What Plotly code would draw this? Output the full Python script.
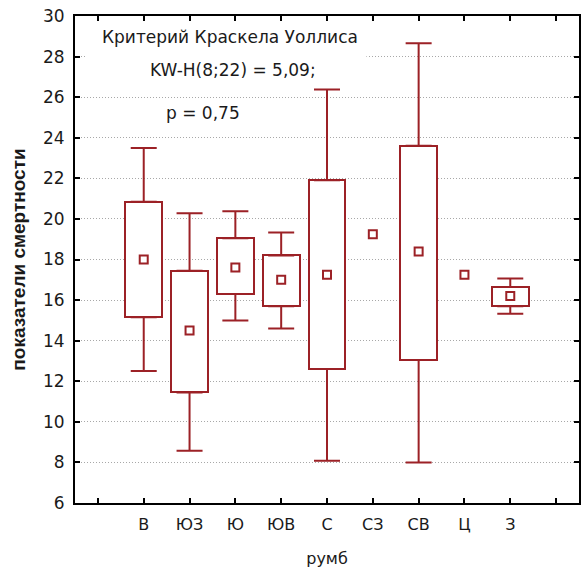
import plotly.graph_objects as go

# ---- data ----
categories = ["В", "ЮЗ", "Ю", "ЮВ", "С", "СЗ", "СВ", "Ц", "З"]
medians = [18.0, 14.5, 17.6, 17.0, 17.25, 19.25, 18.4, 17.25, 16.2]
q1 = [15.15, 11.45, 16.3, 15.7, 12.6, None, 13.05, None, 15.7]
q3 = [20.85, 17.45, 19.05, 18.2, 21.9, None, 23.6, None, 16.65]
mins = [12.5, 8.57, 15.0, 14.6, 8.08, None, 8.0, None, 15.33]
maxs = [23.5, 20.28, 20.38, 19.33, 26.38, None, 28.66, None, 17.06]
y_ticks = list(range(6, 31, 2))
annotation_lines = ["Критерий Краскела Уоллиса", "KW-H(8;22) = 5,09;", "p = 0,75"]

RED = "#9c2126"
FONT = "DejaVu Sans, Liberation Sans, Arial, sans-serif"
TFONT = "Liberation Sans, Arial, sans-serif"
TXT = "#1a1a1a"

pos = [i + 1 for i in range(len(categories))]

fig = go.Figure()

# boxes (25%-75%)
box_pos = [p for p, a in zip(pos, q1) if a is not None]
box_base = [a for a in q1 if a is not None]
box_h = [b - a for a, b in zip(q1, q3) if a is not None]
fig.add_trace(go.Bar(
    x=box_pos, y=box_h, base=box_base, width=0.8,
    marker=dict(color="white", line=dict(color=RED, width=2)),
    showlegend=False, hoverinfo="skip"))

# whiskers (min-max)
up_y = [a for a in q3 if a is not None]
up_e = [m - a for a, m in zip(q3, maxs) if a is not None]
lo_y = [a for a in q1 if a is not None]
lo_e = [a - m for a, m in zip(q1, mins) if a is not None]
fig.add_trace(go.Scatter(
    x=box_pos, y=up_y, mode="markers",
    marker=dict(size=1, color="rgba(0,0,0,0)"),
    error_y=dict(type="data", symmetric=False, array=up_e, arrayminus=[0] * len(up_e),
                 color=RED, thickness=2, width=13),
    showlegend=False, hoverinfo="skip"))
fig.add_trace(go.Scatter(
    x=box_pos, y=lo_y, mode="markers",
    marker=dict(size=1, color="rgba(0,0,0,0)"),
    error_y=dict(type="data", symmetric=False, array=[0] * len(lo_e), arrayminus=lo_e,
                 color=RED, thickness=2, width=13),
    showlegend=False, hoverinfo="skip"))

# medians
fig.add_trace(go.Scatter(
    x=pos, y=medians, mode="markers",
    marker=dict(symbol="square", size=8, color="white", line=dict(color=RED, width=2)),
    showlegend=False, hoverinfo="skip"))

# white background of the text block
fig.add_shape(type="rect", xref="x", yref="y", x0=-0.24, x1=5.86, y0=27.2, y1=29.6,
              fillcolor="white", line=dict(width=0), layer="between")

ann_x = [100, 148, 164]
ann_y = [37, 70, 113]
for txt, ax, ay in zip(annotation_lines, ann_x, ann_y):
    fig.add_annotation(text=txt, xref="paper", yref="paper",
                       x=(ax - 75) / 506, y=(571 - 68 - ay) / 487,
                       xanchor="left", yanchor="middle", showarrow=False,
                       font=dict(family=FONT, size=17, color=TXT))

fig.update_layout(
    width=581, height=571,
    margin=dict(l=75, r=0, t=16, b=68),
    paper_bgcolor="white", plot_bgcolor="white",
    font=dict(family=FONT, color=TXT),
    bargap=0,
)
fig.update_xaxes(
    range=[-0.5, 10.5],
    tickvals=list(range(0, 11)),
    ticktext=[""] + categories + [""],
    ticks="inside", ticklen=5, tickwidth=2, tickcolor="black",
    showline=True, linecolor="black", linewidth=2, mirror="ticks",
    showgrid=False, zeroline=False,
    ticklabelstandoff=6,
    tickfont=dict(family=FONT, size=16, color=TXT),
    title=dict(text="румб", font=dict(family=FONT, size=16, color=TXT), standoff=20),
)
fig.update_yaxes(
    range=[6, 30],
    tickvals=y_ticks,
    ticks="inside", ticklen=5, tickwidth=2, tickcolor="black",
    showline=True, linecolor="black", linewidth=2, mirror="ticks",
    showgrid=True, gridcolor="#a8a8a8", griddash="1px,2px", gridwidth=1,
    zeroline=False,
    ticklabelstandoff=5,
    tickfont=dict(family=FONT, size=17, color=TXT),
    title=dict(text="<b>показатели смертности</b>", font=dict(family=TFONT, size=19, color=TXT), standoff=12),
)

fig.write_html("out.html")
